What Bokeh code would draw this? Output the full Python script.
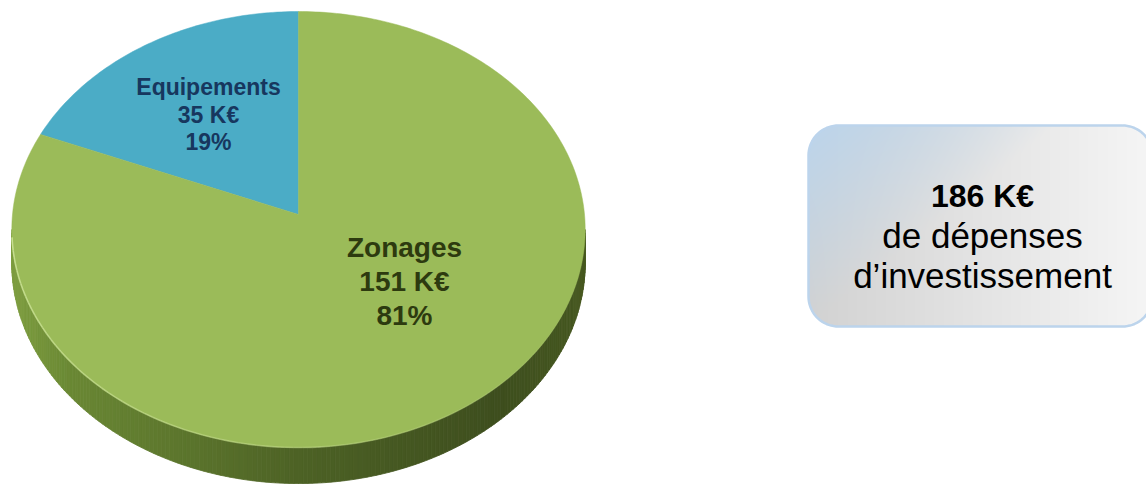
import numpy as np
from bokeh.plotting import figure
from bokeh.models import Range1d
from bokeh.core.properties import value
from bokeh.embed import file_html
from bokeh.resources import INLINE

# ---------------- data ----------------
categories = ["Zonages", "Equipements"]
values_keur = [151, 35]
percents = [81, 19]
total_keur = 186
box_lines = [f"{total_keur} K€", "de dépenses", "d’investissement"]

# ---------------- styling ----------------
slice_colors = {"Zonages": "#9bbb59", "Equipements": "#4bacc6"}
label_colors = {"Zonages": "#2d3a0f", "Equipements": "#17375e"}
label_pos = {"Equipements": (208, [86, 114, 141], "23px"),
             "Zonages": (404, [247, 281, 315], "28px")}

W, H = 1146, 484


def Y(py):
    return H - np.asarray(py, dtype=float)


p = figure(width=W, height=H, x_range=Range1d(0, W), y_range=Range1d(0, H),
           output_backend="svg", toolbar_location=None, min_border=0,
           x_axis_location=None, y_axis_location=None)
p.grid.visible = False
p.outline_line_color = None
p.background_fill_color = "white"
p.border_fill_color = "white"

# ---------------- 3D pie (perspective projection) ----------------
CX, CY0, RX, RY, K, DEPTH = 298.0, 214.0, 286.0, 217.0, 0.069, 33.5


def proj(a):
    a = np.asarray(a, dtype=float)
    u = -np.sin(a)
    v = np.cos(a)
    w = 1 + K * v
    return CX + RX * u / w, CY0 - RY * v / w, w


# side of the cylinder (front half), gradient via strips
a0 = np.arccos(-K)
a1 = 2 * np.pi - a0
N = 200
angs = np.linspace(a0, a1, N + 1)
sx, sy, sw = proj(angs)
stops_t = [0.0, 0.1, 0.5, 0.85, 1.0]
stops_c = np.array([[126, 158, 64], [106, 136, 52], [77, 98, 37], [62, 78, 30], [70, 88, 32]], dtype=float)
xs_side, ys_side, cols_side = [], [], []
for i in range(N):
    xa, xb = sx[i], sx[i + 1]
    ya, yb = sy[i], sy[i + 1]
    da, db = DEPTH / sw[i], DEPTH / sw[i + 1]
    xs_side.append([xa, xb, xb, xa])
    ys_side.append(list(Y([ya, yb, yb + db, ya + da])))
    t = ((xa + xb) / 2 - (CX - RX)) / (2 * RX)
    c = [np.interp(t, stops_t, stops_c[:, k]) for k in range(3)]
    cols_side.append("#%02x%02x%02x" % tuple(int(round(v)) for v in c))
p.patches(xs_side, ys_side, fill_color=cols_side, line_color=cols_side, line_width=0.8)

# top slices, counterclockwise from 12 o'clock: Equipements first, then Zonages
order = ["Equipements", "Zonages"]
tot = float(sum(values_keur))
start = 0.0
for cat in order:
    frac = values_keur[categories.index(cat)] / tot
    end = start + frac * 2 * np.pi
    aa = np.linspace(start, end, max(8, int(frac * 400)))
    ax, ay, _ = proj(aa)
    px = np.concatenate([[CX], ax])
    py = np.concatenate([[CY0], ay])
    p.patch(px, Y(py), fill_color=slice_colors[cat], line_color=slice_colors[cat], line_width=0.5)
    start = end

# light rim along the front edge
ra = np.linspace(np.radians(96), np.radians(250), 90)
rx_, ry_, _ = proj(ra)
seg_x = [[rx_[i], rx_[i + 1]] for i in range(len(ra) - 1)]
seg_y = [list(Y([ry_[i], ry_[i + 1]])) for i in range(len(ra) - 1)]
seg_a = list(np.linspace(0.85, 0.0, len(seg_x)))
p.multi_line(seg_x, seg_y, line_color="#cfe69a", line_width=1.6, line_alpha=seg_a)

# slice labels
for i, cat in enumerate(categories):
    lx, lys, fs = label_pos[cat]
    lines = [cat, f"{values_keur[i]} K€", f"{percents[i]}%"]
    p.text(x=[lx] * 3, y=list(Y(lys)), text=lines, text_align="center",
           text_baseline="alphabetic", text_font=value("Liberation Sans"),
           text_font_style="bold", text_font_size=fs, text_color=label_colors[cat])

# ---------------- summary box ----------------
BX0, BY0, BX1, BY1, BR = 808, 125, 1152, 326, 30
nx, ny = BX1 - BX0, BY1 - BY0
gx = BX0 + np.arange(nx) + 0.5
gy = BY1 - (np.arange(ny) + 0.5)
PX, PY = np.meshgrid(gx, gy)
cxb, cyb = (BX0 + BX1) / 2, (BY0 + BY1) / 2
hx, hy = (BX1 - BX0) / 2 - BR, (BY1 - BY0) / 2 - BR
qx = np.abs(PX - cxb) - hx
qy = np.abs(PY - cyb) - hy
d = np.hypot(np.maximum(qx, 0), np.maximum(qy, 0)) + np.minimum(np.maximum(qx, qy), 0) - BR
alpha = np.clip(0.5 - d, 0, 1)
tx = (PX - BX0) / (BX1 - BX0)
ty = (PY - BY0) / (BY1 - BY0)
gray = 210 + (244 - 210) * np.clip(tx * 1.05, 0, 1)
s = np.clip(1 - (tx * 1.4 + ty * 1.0), 0, 1)
r = gray * (1 - s) + 188 * s
g = gray * (1 - s) + 213 * s
b = gray * (1 - s) + 236 * s
img = np.empty((ny, nx), dtype=np.uint32)
view = img.view(dtype=np.uint8).reshape((ny, nx, 4))
view[..., 0] = r.astype(np.uint8)
view[..., 1] = g.astype(np.uint8)
view[..., 2] = b.astype(np.uint8)
view[..., 3] = (alpha * 255).astype(np.uint8)
p.image_rgba(image=[img], x=BX0, y=float(Y(BY1)), dw=nx, dh=ny)

# border of the rounded box
bx, by = [], []
corners = [(BX1 - BR, BY0 + BR, -90, 0), (BX1 - BR, BY1 - BR, 0, 90),
           (BX0 + BR, BY1 - BR, 90, 180), (BX0 + BR, BY0 + BR, 180, 270)]
for ccx, ccy, t0, t1 in corners:
    tt = np.radians(np.linspace(t0, t1, 20))
    bx.extend(ccx + BR * np.cos(tt))
    by.extend(ccy + BR * np.sin(tt))
bx.append(bx[0])
by.append(by[0])
p.line(bx, list(Y(by)), line_color="#bcd4ec", line_width=2.5)

# box text
box_x = 982
box_base = [195, 235, 275]
box_style = ["bold", "normal", "normal"]
box_size = ["32px", "35px", "35px"]
for txt, yb, st, fs in zip(box_lines, box_base, box_style, box_size):
    p.text(x=[box_x], y=[float(Y(yb))], text=[txt], text_align="center",
           text_baseline="alphabetic", text_font=value("Liberation Sans"),
           text_font_style=st, text_font_size=fs, text_color="#000000")

open("out.html", "w").write(file_html(p, INLINE))
